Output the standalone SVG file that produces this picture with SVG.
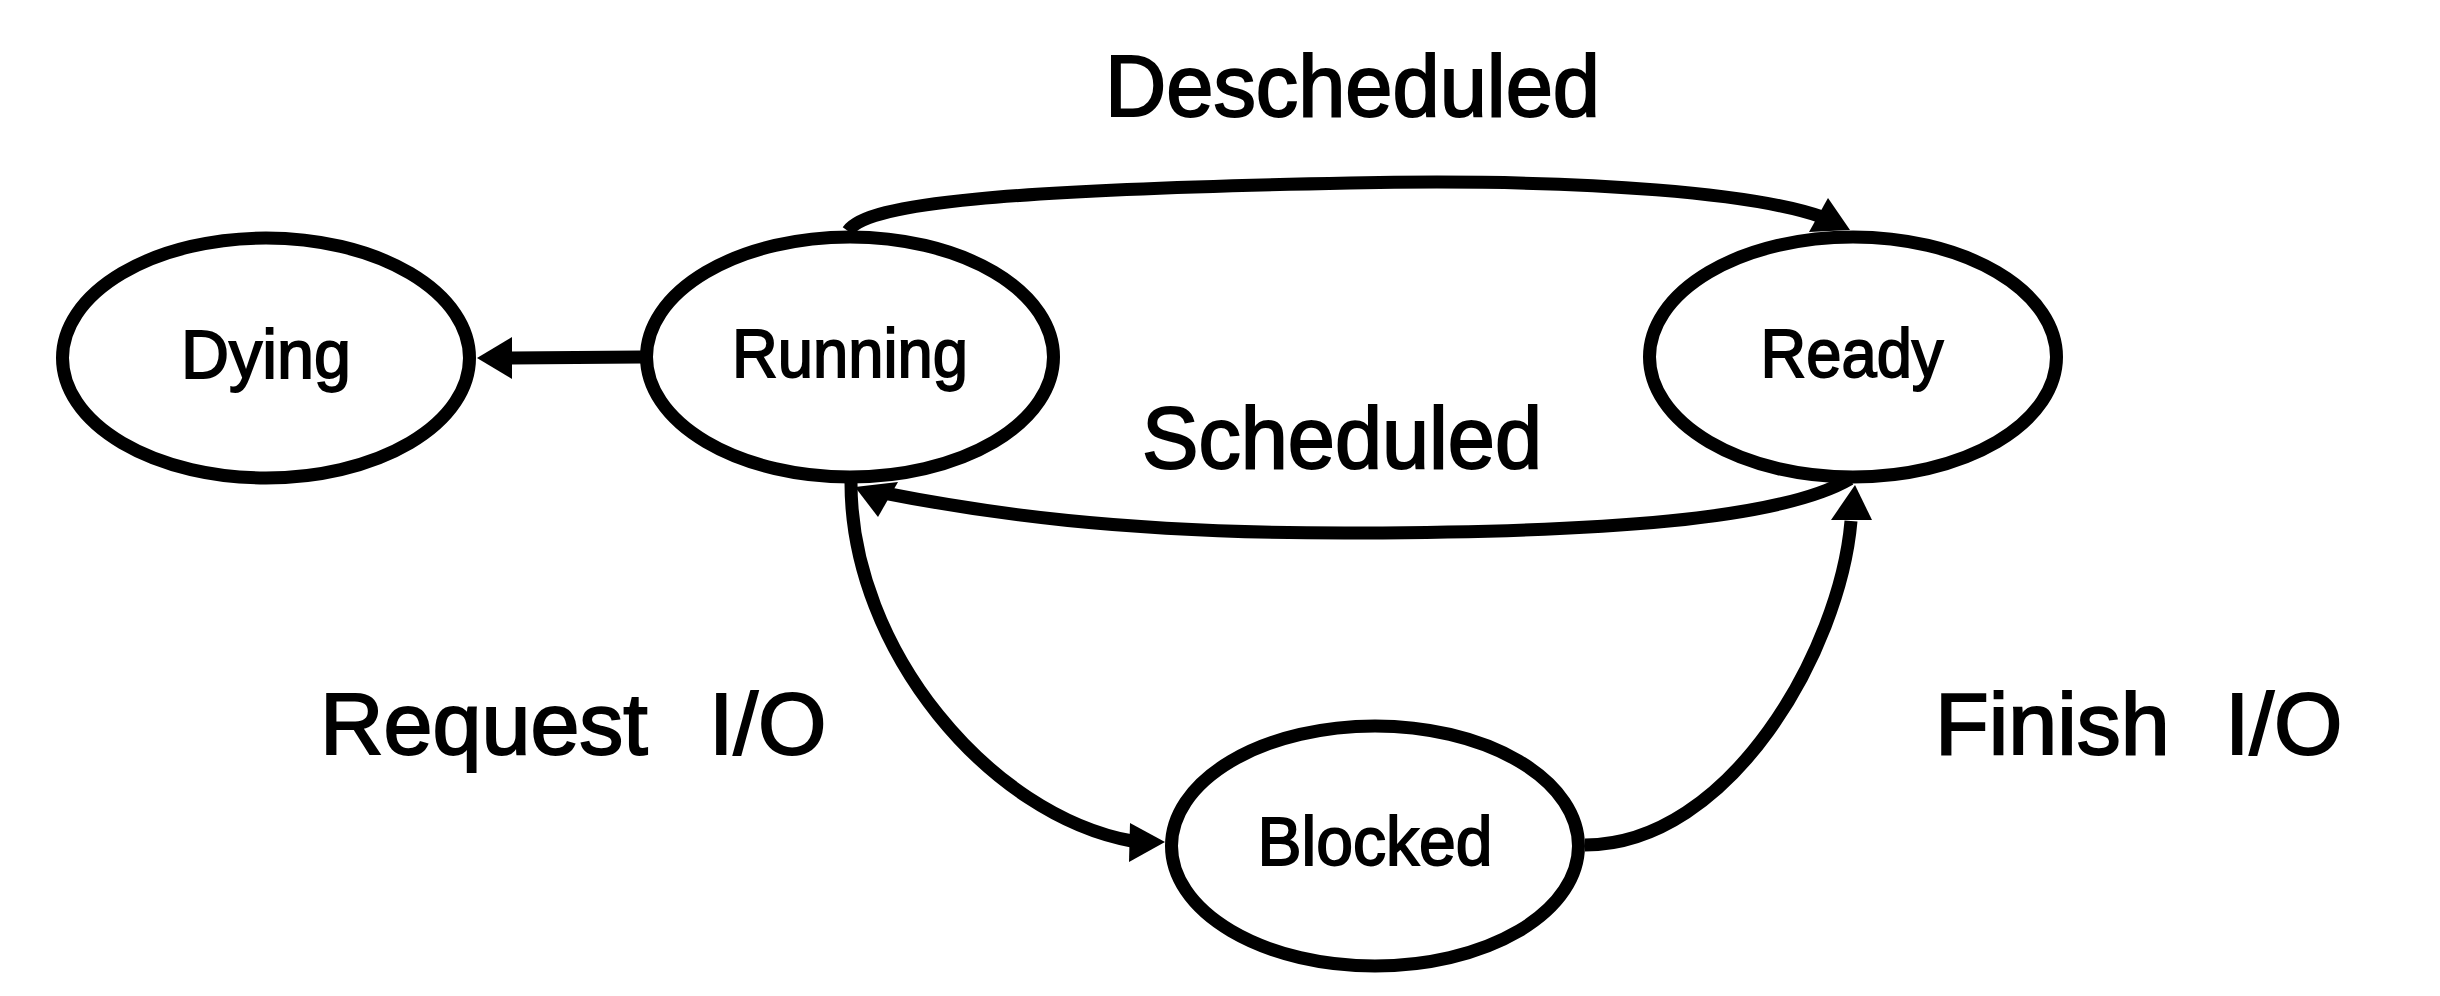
<svg xmlns="http://www.w3.org/2000/svg" width="2440" height="996" viewBox="0 0 2440 996">
<style>
.node ellipse{fill:#fff;stroke:#000;stroke-width:13}
.nt{font-family:"Liberation Sans",Arial,sans-serif;font-size:68px;fill:#000;stroke:#000;stroke-width:1.8;text-anchor:middle}
.lt{font-family:"Liberation Sans",Arial,sans-serif;font-size:88px;fill:#000;stroke:#000;stroke-width:2}
.edge{fill:none;stroke:#000;stroke-width:13}
.head{fill:#000;stroke:none}
</style>
<rect width="2440" height="996" fill="#fff"/>
<g id="connectors">
  <g id="e-running-dying">
    <path class="edge" d="M641,357 L511,358"/>
    <polygon class="head" points="477,358 512,337 512,379"/>
  </g>
  <g id="e-descheduled">
    <path class="edge" d="M848,231 C868,203 1000,190 1350,183 C1600,178 1760,195 1822,217"/>
    <polygon class="head" points="1828,198 1809,232 1850,230"/>
  </g>
  <g id="e-scheduled">
    <path class="edge" d="M1850,479 C1780,520 1600,532 1360,533 C1120,534 980,512 884,493"/>
    <polygon class="head" points="878,517 855,487 898,482"/>
  </g>
  <g id="e-request">
    <path class="edge" d="M851,483 C851,650 990,815 1132,841"/>
    <polygon class="head" points="1165,842 1130,823 1129,862"/>
  </g>
  <g id="e-finish">
    <path class="edge" d="M1585,845 C1730,845 1840,650 1851,521"/>
    <polygon class="head" points="1855,485 1831,520 1872,520"/>
  </g>
</g>
<g id="node-dying" class="node">
  <ellipse cx="266" cy="358" rx="203.5" ry="120"/>
  <text class="nt" x="266" y="378" textLength="170" lengthAdjust="spacingAndGlyphs">Dying</text>
</g>
<g id="node-running" class="node">
  <ellipse cx="850" cy="357" rx="203.5" ry="120"/>
  <text class="nt" x="850" y="377" textLength="236" lengthAdjust="spacingAndGlyphs">Running</text>
</g>
<g id="node-ready" class="node">
  <ellipse cx="1853" cy="357" rx="203.5" ry="120"/>
  <text class="nt" x="1852" y="377" textLength="183" lengthAdjust="spacingAndGlyphs">Ready</text>
</g>
<g id="node-blocked" class="node">
  <ellipse cx="1375" cy="846" rx="203.5" ry="120"/>
  <text class="nt" x="1375" y="865" textLength="235" lengthAdjust="spacingAndGlyphs">Blocked</text>
</g>
<g id="labels">
  <text class="lt" x="1105" y="116" textLength="495" lengthAdjust="spacingAndGlyphs">Descheduled</text>
  <text class="lt" x="1142" y="468" textLength="400" lengthAdjust="spacingAndGlyphs">Scheduled</text>
  <text class="lt" x="320" y="754">Request <tspan x="709">I/O</tspan></text>
  <text class="lt" x="1935" y="754">Finish <tspan x="2225">I/O</tspan></text>
</g>
</svg>
